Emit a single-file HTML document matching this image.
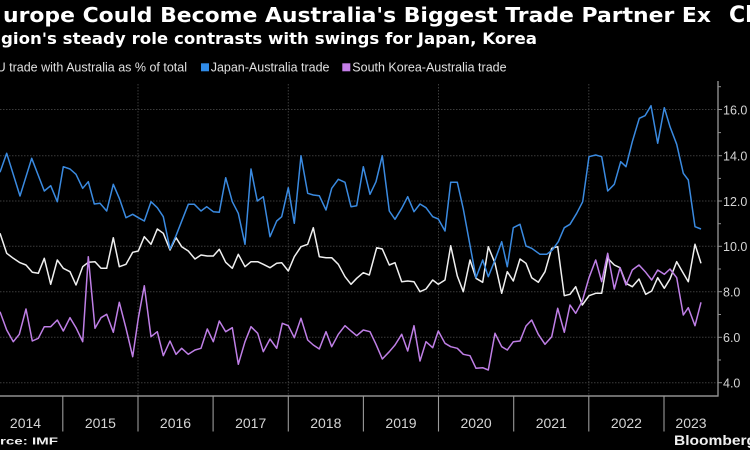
<!DOCTYPE html>
<html><head><meta charset="utf-8"><style>
html,body{margin:0;padding:0;background:#000;}
svg{display:block;}
</style></head><body>
<svg width="750" height="450" viewBox="0 0 750 450" xmlns="http://www.w3.org/2000/svg">
<rect width="750" height="450" fill="#000"/>
<!-- Title -->
<g font-family="DejaVu Sans, Liberation Sans, sans-serif" font-weight="bold" fill="#fff">
<text x="-16" y="22" font-size="20">E</text>
<text x="3" y="22" font-size="20" textLength="708" lengthAdjust="spacingAndGlyphs">urope Could Become Australia's Biggest Trade Partner Ex</text>
<text x="729" y="22" font-size="22">China</text>
<text x="-24" y="44" font-size="16">Re</text>
<text x="1" y="44" font-size="16" textLength="536" lengthAdjust="spacingAndGlyphs">gion's steady role contrasts with swings for Japan, Korea</text>
</g>
<!-- Legend -->
<g font-family="Liberation Sans, sans-serif" font-size="12.5" fill="#e0e0e0">
<text x="187" y="71.5" text-anchor="end">EU trade with Australia as % of total</text>
<rect x="201" y="63.3" width="8" height="8" fill="#2f8be8"/>
<text x="210.7" y="71.5">Japan-Australia trade</text>
<rect x="342.3" y="63.3" width="8" height="8" fill="#c47ee8"/>
<text x="352.3" y="71.5">South Korea-Australia trade</text>
</g>
<!-- Gridlines -->
<g stroke="#3c3c3c" stroke-width="1" stroke-dasharray="1.5,1.5" fill="none">
<line x1="0" y1="109.5" x2="718" y2="109.5"/>
<line x1="0" y1="155.7" x2="718" y2="155.7"/>
<line x1="0" y1="201" x2="718" y2="201"/>
<line x1="0" y1="246.3" x2="718" y2="246.3"/>
<line x1="0" y1="291.7" x2="718" y2="291.7"/>
<line x1="0" y1="337.3" x2="718" y2="337.3"/>
<line x1="0" y1="382.7" x2="718" y2="382.7"/>
<line x1="138" y1="84" x2="138" y2="396"/>
<line x1="288.3" y1="84" x2="288.3" y2="396"/>
<line x1="438.5" y1="84" x2="438.5" y2="396"/>
<line x1="588.8" y1="84" x2="588.8" y2="396"/>
</g>
<!-- Axes -->
<g stroke="#8f8f8f" fill="none">
<line x1="0" y1="396" x2="718.5" y2="396" stroke-width="1.6"/>
<line x1="718" y1="81" x2="718" y2="396.5" stroke-width="1.4"/>
<g stroke-width="1">
<line x1="718" y1="86.7" x2="721" y2="86.7"/>
<line x1="718" y1="109.5" x2="722" y2="109.5"/>
<line x1="718" y1="132.6" x2="721" y2="132.6"/>
<line x1="718" y1="155.7" x2="722" y2="155.7"/>
<line x1="718" y1="178.4" x2="721" y2="178.4"/>
<line x1="718" y1="201" x2="722" y2="201"/>
<line x1="718" y1="223.7" x2="721" y2="223.7"/>
<line x1="718" y1="246.3" x2="722" y2="246.3"/>
<line x1="718" y1="269" x2="721" y2="269"/>
<line x1="718" y1="291.7" x2="722" y2="291.7"/>
<line x1="718" y1="314.5" x2="721" y2="314.5"/>
<line x1="718" y1="337.3" x2="722" y2="337.3"/>
<line x1="718" y1="360" x2="721" y2="360"/>
<line x1="718" y1="382.7" x2="722" y2="382.7"/>
</g>
<g stroke-width="1.1" stroke="#9a9a9a">
<line x1="62.8" y1="396" x2="62.8" y2="431.5"/>
<line x1="138" y1="396" x2="138" y2="431.5"/>
<line x1="213.1" y1="396" x2="213.1" y2="431.5"/>
<line x1="288.3" y1="396" x2="288.3" y2="431.5"/>
<line x1="363.4" y1="396" x2="363.4" y2="431.5"/>
<line x1="438.5" y1="396" x2="438.5" y2="431.5"/>
<line x1="513.7" y1="396" x2="513.7" y2="431.5"/>
<line x1="588.8" y1="396" x2="588.8" y2="431.5"/>
<line x1="664" y1="396" x2="664" y2="431.5"/>
</g>
</g>
<!-- Y labels -->
<g font-family="Liberation Sans, sans-serif" font-size="12.5" fill="#d4d4d4">
<text x="723" y="114.5">16.0</text>
<text x="723" y="160.5">14.0</text>
<text x="723" y="205.8">12.0</text>
<text x="723" y="251">10.0</text>
<text x="723" y="296.5">8.0</text>
<text x="723" y="342">6.0</text>
<text x="723" y="387.5">4.0</text>
</g>
<!-- X labels -->
<g font-family="Liberation Sans, sans-serif" font-size="14" fill="#d4d4d4" text-anchor="middle">
<text x="25.5" y="428">2014</text>
<text x="100.4" y="428">2015</text>
<text x="175.5" y="428">2016</text>
<text x="250.7" y="428">2017</text>
<text x="325.8" y="428">2018</text>
<text x="401" y="428">2019</text>
<text x="476.1" y="428">2020</text>
<text x="551.3" y="428">2021</text>
<text x="626.4" y="428">2022</text>
<text x="691" y="428">2023</text>
</g>
<!-- Series -->
<g fill="none" stroke-width="1.5" stroke-linejoin="round">
<polyline stroke="#f0f0f0" points="0,233.3 6.7,253.3 13.3,258.3 20,262.7 26,265 32.3,272.3 38.3,273.3 44.3,258.3 50.7,284.3 57.3,260 63.3,268.3 70,271.7 76,285 82.7,266.7 88.3,262.3 95,261.7 101,268.3 106.7,268.3 113.3,237.7 119.3,266.7 126,264.3 132.7,252.3 138.3,251 144.3,236.7 151,244.3 157.3,229 163.3,233.3 170,250 176,237.7 181.7,246.7 188.3,251 195,259 201,255 207.3,256 213.3,256 219.3,249.3 225.7,262.3 232.3,268.3 238.3,254.3 245,266.7 251,261.7 257.7,261.7 263.3,264.3 270,267.7 276.7,263.3 281.7,262.7 288.3,271 294.3,256.7 301,246.7 307.7,244.3 313.3,227.7 319.3,256.7 326,257.7 331.7,257.7 338.3,264.3 345,276.7 351,284.3 356.7,278.3 363.3,272.7 369.3,275 376.7,247.7 382.3,249 389.3,265 395,262.7 401.7,281.7 407.7,281 414,281.7 420,291.7 426,289 432.7,280 438.3,284.3 445,280 450.7,245.7 457.3,276 463.3,291.7 470,260 476,278.3 482.7,282.3 488.3,246.7 495,263.3 501.7,293.3 507.3,271.7 513.3,281 520,259 526,263.3 531.7,277.7 538.3,282.3 545,271.7 551.7,248.3 557.7,246.7 564.3,295.7 570,294.3 575.7,286.7 582.3,305 589,295.7 595.7,293.3 601.7,293.3 607.7,258.3 614.3,265 620,267.7 626,283.3 632.3,286.7 639,279 645.7,294.3 651.7,291 657.7,277.7 664.3,288.3 670,279 676.7,261.7 683.3,273.3 688.3,281.7 695,244.3 701,263.3"/>
<polyline stroke="#3a8ae0" points="0,172.3 6.7,153.3 20,196 31.7,158.3 44.3,191 50.7,185.7 57.3,201.7 63.3,166.7 70,169 76,174.3 82.7,188.3 88.3,181.7 94.3,204 100,203.3 106.7,211 113.3,184.3 119.3,198.3 126,217.7 132.7,214.3 138.3,217.7 144.3,221 151,201.7 157.3,207.7 163.3,216.7 170,249 176,235.7 188.3,204.3 194.3,204.3 201,211 206.7,206.7 213.3,211.7 219.3,212.3 225.7,177.7 232.3,201.7 238.3,213.3 245,244.3 251,169 257.3,201 263.3,196.7 270,236.7 276.7,221 281.7,216.7 288.3,187.7 294.3,223.3 301,155.7 307.7,193.3 313.3,195 319.3,195.7 326,210 331.7,188.3 338.3,179.3 345,182.3 351,206.7 356.7,205.7 363.3,166.7 370,194.3 376,181.7 382.3,155.7 389.3,211 395,219.3 401.7,208.3 407.7,196.7 414,211.7 420,204 426,207.7 432.7,216.7 438.3,219 445,231 450.7,182.3 457.3,182.3 463.3,209 476,277.7 482.7,260 488.3,276.7 495,260 501.7,241.7 507.3,266.7 513.3,227.7 520,224.3 526,246 531.7,248.3 540,254.3 546.7,254.3 552.3,250 558.3,241.7 564.3,227.7 570,224.3 576.7,213.3 582.7,201.7 589,156.7 595.7,155 601.7,156.7 607.7,191 614.3,184.3 620.7,161.7 626,166.7 632.3,141.7 639.3,118.3 645,115.7 651,105.7 657.7,143.3 664.3,107.7 670,126.7 676.7,144.3 683.3,173.3 688.3,180 695,226.7 701,229"/>
<polyline stroke="#bf7fe6" points="0,311.7 6.7,330 13.3,341.7 19.3,334.3 26,309 32.3,341 38.3,338.3 44.3,326.7 50.7,326.7 57.3,320 63.3,331 70,317.7 76,327.7 82.7,341.7 88.3,256.7 95,328.3 101,317.7 106.7,314.3 113.3,332.3 119.3,302.3 126,328.3 132.7,356.7 138.3,318.3 144.3,285.7 151,336.7 157.3,331.7 163.3,355.7 170,341 176,354.3 181.7,348.3 188.3,354.3 195,350 201,348.3 207.3,329 213.3,341.7 219.3,321 225.7,331.7 232.3,327.7 238.3,364.3 245,341.7 251,326.7 257.7,333.3 263.3,351.7 270,339 276.7,348.3 282.3,323.3 288.3,325.7 294.3,337.7 301,318.3 307.7,340 313.3,345 319.3,349 326,331.7 331.7,346.7 338.3,334.3 345,325.7 351,331 356.7,335.7 363.3,330 370,331.7 376,344.3 382.3,359 389.3,351.7 395,345 401.7,334.3 407.7,351 414,325.7 420,361 426,341.7 432.7,347.7 438.3,331 445,343.3 450.7,346.7 457.3,348.3 463.3,354.3 470,355.7 476,368.3 482.7,367.7 488.3,370 495,333.3 501.7,346.7 507.3,350 513.3,341.7 520,341 526,326 531.7,320 538.3,334.3 545,344.3 551.7,336.7 557.7,308.3 564.3,332.3 570,305 575.7,313.3 582.3,301 589,277.7 595.7,260 601.7,281.7 607.7,253.3 614.3,289 620,267.7 626,285 632.3,270 639,265 645.7,272.3 651.7,280 657.7,270 664.3,274.3 670,269 676.7,277.7 683.3,315 688.3,307.7 695,325.7 701,302.3"/>
</g>
<!-- Footer -->
<g font-family="Liberation Sans, sans-serif" font-weight="bold" fill="#f0f0f0">
<text x="-28.6" y="444.5" font-size="10.5" textLength="86.6" lengthAdjust="spacingAndGlyphs">Source: IMF</text>
<text x="674" y="445" font-size="14" textLength="82" lengthAdjust="spacingAndGlyphs">Bloomberg</text>
</g>
</svg>
</body></html>
